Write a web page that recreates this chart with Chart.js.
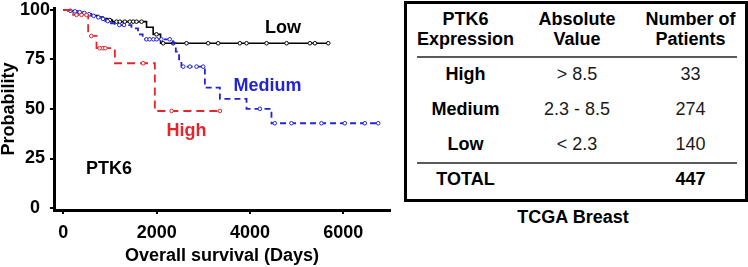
<!DOCTYPE html>
<html><head><meta charset="utf-8">
<script src="https://cdn.jsdelivr.net/npm/chart.js@4/dist/chart.umd.min.js"></script>
<style>
html,body{margin:0;padding:0;background:#fff;width:748px;height:267px;overflow:hidden;font-family:"Liberation Sans",Arial,sans-serif;}
#wrap{position:relative;width:748px;height:267px;}
#c{position:absolute;left:0;top:0;width:400px;height:267px;}
.t{position:absolute;font-size:18px;line-height:20px;white-space:nowrap;transform:translateX(-50%);text-align:center;color:#000;}
.b{font-weight:bold;}
.n{font-weight:normal;color:#1a1a1a;}
#box{position:absolute;left:404px;top:1px;width:338px;height:195px;border:3px solid #000;}
.rule{position:absolute;left:417px;width:320px;height:2px;background:#5a5a5a;}
</style>
</head><body>
<div id="wrap">
<canvas id="c" width="400" height="267"></canvas>
<div id="box"></div>
</div>
<script>
// ---- Kaplan-Meier step data (days, survival %) ----
const lowDays  = [0, 150, 300, 450, 600, 750, 850, 950, 1050, 1783, 1925, 2084, 5680];
const lowSurv  = [100, 99.3, 98.6, 97.9, 97.2, 96.4, 95.7, 94.9, 94.1, 91.3, 87.7, 83.2, 83.2];
const medDays  = [0, 100, 200, 300, 400, 500, 600, 700, 800, 900, 1000, 1100, 1460, 1600, 1700, 2350, 2410, 2480, 2530, 3033, 3355, 3926, 4460, 6780];
const medSurv  = [100, 99.6, 99.3, 98.9, 98.5, 97.8, 97.0, 96.3, 95.5, 94.4, 93.3, 92.4, 90.7, 87.7, 85.2, 83.2, 79.0, 75.1, 71.4, 60.8, 55.1, 50.1, 42.8, 42.8];
const highDays = [0, 210, 532, 711, 1104, 1961, 3355];
const highSurv = [100, 97.5, 86.9, 80.7, 73.1, 49.0, 49.0];
// censor times (days)
const lowCensor  = [997, 1140, 1211, 1318, 1425, 1497, 1568, 1676, 1997, 2140, 2354, 2640, 3104, 3318, 3783, 3926, 4355, 4784, 5284, 5391, 5677];
const medCensor  = [150, 250, 350, 450, 550, 650, 750, 850, 950, 1200, 1300, 1783, 1850, 1930, 2000, 2100, 2280, 2570, 2711, 2854, 2997, 4212, 4531, 4888, 5531, 6032, 6461, 6747];
const highCensor = [282, 390, 497, 600, 780, 850, 900, 1711, 2320, 3355];
// axes
const xTicks = [0, 2000, 4000, 6000];
const yTicks = [0, 25, 50, 75, 100];
const xTitle = 'Overall survival (Days)';
const yTitle = 'Probability';
// curve labels
const seriesNames = ['Low', 'Medium', 'High'];
const geneName = 'PTK6';
// table
const tableHead = [['PTK6', 'Expression'], ['Absolute', 'Value'], ['Number of', 'Patients']];
const groups = ['High', 'Medium', 'Low'];
const absValues = ['> 8.5', '2.3 - 8.5', '< 2.3'];
const patients = [33, 274, 140];
const totalLabel = 'TOTAL';
const totalPatients = 447;
const caption = 'TCGA Breast';

const FF = '"Liberation Sans", Arial, sans-serif';
const COL = {Low:'#000000', Medium:'#2323d2', High:'#e3262b'};

function pts(d, s){ return d.map((x,i)=>({x:x, y:s[i]})); }
function survAt(d, s, t){ let v=s[0]; for(let i=0;i<d.length;i++){ if(d[i]<=t) v=s[i]; } return v; }
function cens(c, d, s){ return c.map(t=>({x:t, y:survAt(d,s,t)})); }

const lineDs = (label, d, s, color, dash, w, order) => ({
  label, data: pts(d,s), stepped: true, borderColor: color, borderWidth: w,
  borderDash: dash, pointRadius: 0, fill: false, order
});
const cenDs = (label, c, d, s, color, order) => ({
  label, data: cens(c,d,s), showLine: false, pointRadius: 1.8, pointStyle: 'circle',
  borderColor: color, backgroundColor: '#ffffff', pointBorderWidth: 1, order
});

new Chart(document.getElementById('c'), {
  type: 'line',
  data: { datasets: [
    cenDs('High c', highCensor, highDays, highSurv, COL.High, 0),
    lineDs(seriesNames[2], highDays, highSurv, COL.High, [8,5], 1.8, 1),
    cenDs('Medium c', medCensor, medDays, medSurv, COL.Medium, 2),
    lineDs(seriesNames[1], medDays, medSurv, COL.Medium, [6,4], 1.8, 3),
    cenDs('Low c', lowCensor, lowDays, lowSurv, COL.Low, 4),
    lineDs(seriesNames[0], lowDays, lowSurv, COL.Low, [], 1.6, 5)
  ]},
  options: {
    responsive: false, animation: false, devicePixelRatio: 1,
    layout: { padding: { top: 0, right: 10, left: 0, bottom: 0 } },
    plugins: { legend: { display: false }, tooltip: { enabled: false } },
    scales: {
      x: {
        type: 'linear', min: -200, max: 7000,
        afterBuildTicks: ax => { ax.ticks = xTicks.map(v => ({value: v})); },
        afterFit: ax => { ax.height = 57; },
        border: { display: true, color: '#000', width: 3 },
        grid: { display: true, drawOnChartArea: false, drawTicks: true, tickLength: 4, color: '#000', lineWidth: 2 },
        ticks: { color: '#000', callback: v => String(v), font: { family: FF, size: 18, weight: 'bold' }, padding: 8, maxRotation: 0, autoSkip: false },
        title: { display: true, text: xTitle, color: '#000', font: { family: FF, size: 18, weight: 'bold', lineHeight: 1.2 }, padding: 0 }
      },
      y: {
        type: 'linear', min: -1, max: 101,
        afterBuildTicks: ax => { ax.ticks = yTicks.map(v => ({value: v})); },
        afterFit: ax => { ax.width = 54; },
        border: { display: true, color: '#000', width: 3 },
        grid: { display: true, drawOnChartArea: false, drawTicks: true, tickLength: 4, color: '#000', lineWidth: 2 },
        ticks: { color: '#000', callback: v => String(v), crossAlign: 'center', padding: 0, font: { family: FF, size: 18, weight: 'bold', lineHeight: '16px' } },
        title: { display: true, text: yTitle, color: '#000', font: { family: FF, size: 18, weight: 'bold', lineHeight: 1.0 }, padding: 0 }
      }
    }
  }
});

// overlay text
const wrap = document.getElementById('wrap');
function txt(s, cx, cy, cls, color){
  const e = document.createElement('div');
  e.className = 't ' + cls; e.textContent = s;
  e.style.left = cx + 'px'; e.style.top = (cy - 10) + 'px';
  if (color) e.style.color = color;
  wrap.appendChild(e);
}
function rule(y){ const e=document.createElement('div'); e.className='rule'; e.style.top=(y-1)+'px'; wrap.appendChild(e); }

txt(seriesNames[0], 283, 27, 'b', COL.Low);
txt(seriesNames[1], 267.5, 85, 'b', COL.Medium);
txt(seriesNames[2], 186.5, 129.5, 'b', COL.High);
txt(geneName, 109, 168, 'b', '#000');

const colX = [465.5, 577, 690.5];
tableHead.forEach((h, i) => { txt(h[0], colX[i], 19, 'b'); txt(h[1], colX[i], 39, 'b'); });
rule(57);
const rowY = [74, 109, 144];
groups.forEach((g, i) => {
  txt(g, colX[0], rowY[i], 'b');
  txt(absValues[i], colX[1], rowY[i], 'n');
  txt(String(patients[i]), colX[2], rowY[i], 'n');
});
rule(163);
txt(totalLabel, colX[0], 179, 'b');
txt(String(totalPatients), colX[2], 179, 'b');
txt(caption, 573, 217, 'b');
</script>
</body></html>
